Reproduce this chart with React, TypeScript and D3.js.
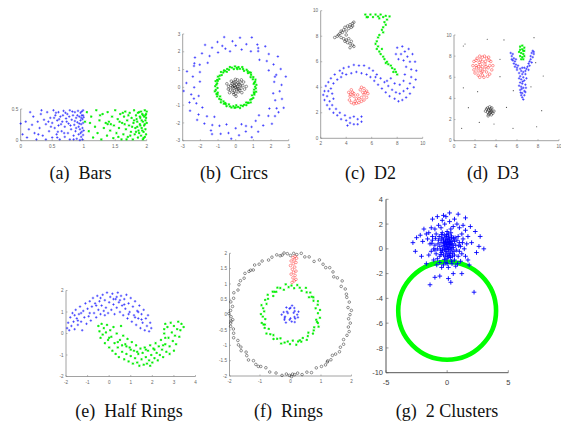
import * as d3 from "d3";

type Pt = [number, number];

// flat [x,y,x,y,...] -> points
const pairs = (a: number[]): Pt[] => d3.range(0, a.length - 1, 2).map((i) => [a[i], a[i + 1]]);
const polar = (a: number[]): Pt[] =>
  pairs(a).map(([deg, r]) => {
    const t = (deg * Math.PI) / 180;
    return [r * Math.cos(t), r * Math.sin(t)];
  });

// ---------- (a) Bars ----------
const barsBlue = pairs([
  0.08,0.30, 0.10,0.05, 0.15,0.45, 0.18,0.25, 0.20,0.38, 0.22,0.12, 0.25,0.02, 0.27,0.30, 0.30,0.20, 0.32,0.42,
  0.35,0.08, 0.37,0.33, 0.40,0.02, 0.40,0.26, 0.42,0.45, 0.45,0.15, 0.47,0.36, 0.50,0.05, 0.50,0.28, 0.52,0.48,
  0.54,0.20, 0.55,0.40, 0.57,0.10, 0.58,0.32, 0.60,0.45, 0.60,0.24, 0.62,0.02, 0.63,0.38, 0.65,0.15, 0.66,0.30,
  0.68,0.47, 0.70,0.22, 0.70,0.06, 0.72,0.35, 0.74,0.42, 0.75,0.12, 0.76,0.27, 0.78,0.02, 0.78,0.48, 0.80,0.18,
  0.81,0.33, 0.83,0.40, 0.84,0.08, 0.85,0.25, 0.86,0.45, 0.87,0.15, 0.88,0.36, 0.89,0.03, 0.90,0.29, 0.91,0.47,
  0.92,0.10, 0.92,0.22, 0.93,0.38, 0.94,0.01, 0.94,0.18, 0.95,0.32, 0.95,0.44, 0.96,0.06, 0.96,0.26, 0.97,0.14,
  0.97,0.40, 0.98,0.02, 0.98,0.20, 0.98,0.34, 0.99,0.48, 0.99,0.09, 0.99,0.28, 1.00,0.16, 1.00,0.37, 0.13,0.18,
  0.28,0.10, 0.33,0.48, 0.44,0.30, 0.48,0.22, 0.53,0.36, 0.56,0.44, 0.59,0.14, 0.61,0.34, 0.64,0.26, 0.67,0.40,
  0.69,0.12, 0.73,0.30, 0.77,0.38, 0.79,0.24, 0.82,0.46, 0.86,0.31, 0.88,0.20, 0.90,0.40, 0.93,0.27, 0.95,0.12,
  0.97,0.46, 0.99,0.40, 0.96,0.36, 0.03,0.10, 0.58,0.05, 0.71,0.44, 0.84,0.02, 0.00,0.27,
]);
const barsGreen = pairs([
  1.02,0.30, 1.05,0.45, 1.08,0.15, 1.12,0.38, 1.15,0.05, 1.18,0.22, 1.20,0.48, 1.22,0.12, 1.25,0.32, 1.28,0.02,
  1.30,0.42, 1.32,0.20, 1.35,0.28, 1.37,0.08, 1.38,0.45, 1.40,0.30, 1.42,0.16, 1.45,0.38, 1.47,0.04, 1.48,0.24,
  1.50,0.48, 1.52,0.12, 1.54,0.34, 1.56,0.20, 1.58,0.42, 1.60,0.02, 1.61,0.28, 1.63,0.10, 1.64,0.38, 1.66,0.46,
  1.67,0.18, 1.69,0.32, 1.70,0.06, 1.72,0.24, 1.73,0.44, 1.75,0.14, 1.76,0.36, 1.78,0.02, 1.79,0.28, 1.80,0.48,
  1.81,0.10, 1.82,0.20, 1.83,0.40, 1.85,0.30, 1.86,0.05, 1.87,0.16, 1.88,0.45, 1.89,0.26, 1.90,0.36, 1.91,0.08,
  1.92,0.20, 1.93,0.42, 1.94,0.02, 1.94,0.30, 1.95,0.14, 1.96,0.38, 1.96,0.24, 1.97,0.48, 1.97,0.06, 1.98,0.32,
  1.98,0.18, 1.99,0.42, 1.99,0.10, 2.00,0.28, 2.00,0.46, 1.65,0.26, 1.71,0.40, 1.74,0.08, 1.77,0.22, 1.84,0.34,
  1.86,0.44, 1.88,0.12, 1.90,0.24, 1.92,0.32, 1.95,0.04, 1.97,0.26, 1.99,0.36, 1.43,0.26, 1.38,0.26, 1.55,0.06,
  1.62,0.44, 1.68,0.02, 1.80,0.32, 1.83,0.14, 1.91,0.46, 1.93,0.16, 1.98,0.40, 1.10,0.28, 1.26,0.40, 1.57,0.30,
  1.85,0.22, 1.89,0.38, 1.94,0.40,
]);

// ---------- (b) Circs ----------
const circsBlue = polar([
  3,2.6, 8,2.2, 12,2.9, 17,2.4, 22,2.75, 27,2.1, 31,2.5, 36,2.95, 40,2.3, 45,2.65, 49,2.05, 54,2.85, 58,2.4,
  63,2.7, 67,2.2, 72,2.95, 76,2.5, 81,2.15, 85,2.8, 90,2.35, 94,2.6, 99,2.05, 103,2.9, 108,2.45, 112,2.75,
  117,2.2, 121,2.6, 126,2.95, 130,2.3, 135,2.7, 139,2.1, 144,2.85, 148,2.4, 153,2.65, 157,2.2, 162,2.9, 166,2.5,
  171,2.05, 175,2.8, 180,2.35, 184,2.95, 189,2.55, 193,2.15, 198,2.75, 202,2.4, 207,2.9, 211,2.2, 216,2.6,
  220,2.85, 225,2.3, 229,2.7, 234,2.05, 238,2.5, 243,2.95, 247,2.35, 252,2.75, 256,2.15, 261,2.6, 265,2.9,
  270,2.3, 274,2.7, 279,2.1, 283,2.55, 288,2.95, 292,2.4, 297,2.8, 301,2.2, 306,2.65, 310,2.05, 315,2.9,
  319,2.45, 324,2.75, 328,2.25, 333,2.6, 337,2.95, 342,2.35, 346,2.7, 351,2.15, 355,2.5, 15,2.3, 60,2.55,
  105,2.25, 150,2.7, 195,2.45, 240,2.8, 285,2.25, 330,2.8,
]);
const circsGreen = polar([
  2,1.1, 7,1.18, 11,1.04, 16,1.14, 21,1.2, 25,1.07, 30,1.15, 34,1.02, 39,1.12, 44,1.19, 49,1.06, 53,1.13,
  58,1.17, 63,1.04, 68,1.11, 72,1.2, 77,1.07, 82,1.15, 87,1.1, 92,1.18, 96,1.03, 101,1.13, 106,1.19, 111,1.06,
  115,1.14, 120,1.01, 125,1.16, 130,1.09, 134,1.2, 139,1.05, 144,1.12, 149,1.17, 153,1.04, 158,1.13, 163,1.19,
  168,1.07, 172,1.11, 177,1.16, 182,1.03, 187,1.14, 191,1.2, 196,1.06, 201,1.1, 206,1.17, 210,1.02, 215,1.13,
  220,1.08, 225,1.19, 229,1.05, 234,1.14, 239,1.1, 244,1.18, 248,1.03, 253,1.12, 258,1.16, 263,1.07, 267,1.15,
  272,1.01, 277,1.11, 282,1.19, 286,1.06, 291,1.13, 296,1.09, 301,1.17, 305,1.04, 310,1.14, 315,1.2, 320,1.08,
  324,1.12, 329,1.16, 334,1.03, 339,1.13, 343,1.1, 348,1.18, 353,1.05, 357,1.14, 14,1.09, 47,1.15, 85,1.03,
  123,1.11, 160,1.08, 199,1.15, 236,1.06, 270,1.13, 308,1.1, 345,1.07,
]);
const circsBlack = pairs([
  0.0,0.0, 0.1,0.05, -0.1,0.1, 0.05,-0.12, -0.15,-0.05, 0.2,0.15, -0.2,0.2, 0.15,-0.25, -0.05,0.3, 0.3,-0.05,
  -0.3,-0.15, 0.0,-0.35, 0.25,0.3, -0.25,0.35, 0.4,0.1, -0.4,0.05, 0.1,0.42, -0.1,-0.4, 0.35,-0.3, -0.35,-0.3,
  0.05,0.18, -0.08,-0.2, 0.18,-0.08, -0.18,0.02, 0.12,0.25, -0.02,0.45, 0.5,-0.1, -0.5,0.2, 0.28,0.12,
  -0.12,0.28, 0.08,-0.05, -0.05,0.08, 0.22,-0.18, -0.28,0.1, 0.45,0.3, -0.15,-0.28, 0.02,-0.5, 0.32,0.42,
  -0.42,-0.1, 0.6,0.05,
]);

// ---------- (c) D2 ----------
const d2Blue = pairs([
  4.9,1.1, 4.9,1.5, 4.6,1.1, 4.6,1.7, 4.3,1.2, 4.3,1.6, 4.0,1.4, 3.9,1.8, 3.6,1.5, 3.5,2.0, 3.3,1.8, 3.2,2.3,
  3.0,2.0, 2.9,2.6, 2.7,2.3, 2.7,2.9, 2.5,2.6, 2.5,3.3, 2.3,3.0, 2.3,3.7, 2.2,3.4, 2.6,3.7, 2.4,4.1, 2.6,4.4,
  2.8,3.9, 2.8,4.7, 3.0,4.3, 3.1,5.0, 3.3,4.6, 3.5,5.3, 3.6,4.8, 3.8,5.5, 4.0,5.0, 4.2,5.6, 4.4,5.1, 4.6,5.75,
  4.8,5.2, 5.0,5.7, 5.2,5.1, 5.4,5.7, 5.6,5.0, 5.8,5.5, 5.9,4.8, 6.1,5.3, 6.2,4.5, 6.4,5.0, 6.5,4.2, 6.7,4.7,
  6.8,3.9, 7.0,4.4, 7.1,3.6, 7.3,4.1, 7.4,3.3, 7.6,3.8, 7.8,3.1, 7.9,3.6, 8.1,2.9, 8.2,3.5, 8.4,3.0, 8.5,3.7,
  8.7,3.2, 8.8,3.9, 9.0,3.5, 9.0,4.3, 9.3,4.0, 9.1,4.8, 9.45,4.6, 9.1,5.4, 9.5,5.3, 9.0,6.0, 9.4,6.0, 8.8,6.4,
  9.2,6.6, 8.6,6.8, 8.9,7.0, 8.3,6.6, 8.4,7.2, 8.0,7.1, 7.9,6.6, 8.1,6.2, 8.5,6.1, 8.7,5.6, 8.6,5.0, 8.5,4.5,
  8.2,4.2, 7.8,4.3, 3.0,3.1, 2.9,3.5, 5.2,1.3, 5.2,1.7, 4.1,1.0, 3.7,5.1, 6.3,4.8, 7.2,4.5, 7.5,4.7,
]);
const d2Green = pairs([
  5.5,9.7, 5.7,9.5, 5.9,9.7, 6.1,9.5, 6.3,9.7, 6.5,9.55, 6.7,9.7, 6.9,9.5, 7.1,9.6, 7.4,9.55, 7.2,9.3, 7.0,9.1,
  7.1,8.9, 6.9,8.7, 6.8,8.5, 6.9,8.3, 6.6,8.1, 6.5,7.9, 6.4,7.6, 6.3,7.4, 6.5,7.2, 6.4,7.0, 6.6,6.8, 6.7,6.6,
  6.9,6.4, 7.0,6.2, 7.2,6.0, 7.3,5.8, 7.5,5.7, 7.6,5.5, 7.8,5.4, 7.9,5.2, 8.0,5.0, 7.7,5.2, 7.1,5.9, 6.8,7.0,
  5.6,9.5, 6.6,9.4,
]);
const d2Red = pairs([
  4.2,3.6, 4.3,3.3, 4.25,3.0, 4.4,2.8, 4.6,2.7, 4.8,2.75, 5.0,2.8, 5.2,2.9, 5.4,3.0, 5.6,3.2, 5.7,3.5, 5.6,3.7,
  5.4,3.9, 5.2,4.0, 5.1,3.8, 5.3,3.6, 5.4,3.4, 5.2,3.2, 5.0,3.1, 4.8,3.1, 4.6,3.3, 4.5,3.6, 4.4,3.8, 4.6,3.5,
  4.9,3.4, 5.5,3.6, 4.35,3.45, 4.7,2.9,
]);
const d2Black = pairs([
  3.1,7.9, 3.3,8.0, 3.5,8.2, 3.6,8.4, 3.8,8.5, 3.9,8.7, 4.1,8.8, 4.3,8.9, 4.5,9.0, 4.6,9.1, 4.4,8.7, 4.2,8.6,
  3.7,8.3, 4.0,8.4, 3.6,7.9, 3.8,7.8, 4.0,7.7, 4.1,7.5, 4.3,7.4, 4.5,7.3, 4.6,7.2, 4.4,7.6, 4.2,7.8, 4.5,8.8,
  3.4,8.1, 4.3,7.1, 4.0,8.1, 3.9,7.6,
]);

// ---------- (d) D3 ----------
const d3Red = pairs([
  2.7,7.0, 2.4,7.4, 3.0,7.5, 2.1,7.1, 3.4,7.1, 2.3,6.6, 3.1,6.5, 2.7,7.9, 2.7,6.2, 1.9,7.5, 3.5,7.5, 1.9,6.7,
  3.6,6.7, 2.2,7.8, 3.3,7.9, 2.3,6.2, 3.2,6.1, 2.5,7.2, 2.95,7.25, 2.55,6.8, 2.9,6.75, 1.8,7.1, 3.7,7.1, 2.0,6.4,
  3.4,6.3, 2.5,7.65, 3.1,7.8, 2.6,6.45, 2.85,6.0, 2.45,6.0, 2.1,7.6, 3.35,7.6, 2.15,6.9, 3.25,6.9, 2.7,7.5,
  2.7,6.55, 2.35,7.0, 3.05,7.0, 2.9,8.0, 2.45,8.0,
]);
const d3Green = pairs([
  6.3,8.9, 6.5,9.0, 6.7,8.8, 6.3,8.6, 6.6,8.5, 6.4,8.3, 6.6,8.2, 6.3,8.0, 6.5,7.9, 6.7,8.0, 6.4,7.7, 6.6,7.7,
  6.2,8.4, 6.7,8.5, 6.5,8.65,
]);
const d3Blue = pairs([
  5.4,8.3, 5.6,8.2, 5.5,8.0, 5.7,7.8, 5.6,7.6, 5.8,7.5, 5.7,7.3, 5.9,7.2, 5.8,7.0, 6.0,6.9, 6.1,7.1, 6.0,6.7,
  5.5,7.7, 5.9,7.7, 7.5,8.5, 7.4,8.3, 7.6,8.2, 7.3,8.0, 7.5,7.9, 7.3,7.7, 7.2,7.5, 7.4,7.4, 7.1,7.3, 7.2,7.1,
  7.0,7.0, 6.9,6.8, 7.1,6.7, 6.8,6.6, 7.6,8.4, 6.3,6.8, 6.5,6.9, 6.7,6.9, 6.4,6.6, 6.6,6.5, 6.2,6.4, 6.5,6.3,
  6.8,6.3, 6.3,6.1, 6.6,6.0, 6.4,5.8, 6.7,5.7, 6.3,5.5, 6.5,5.4, 6.8,5.3, 6.4,5.1, 6.6,5.0, 6.3,4.8, 6.7,4.7,
  6.5,4.5, 6.4,4.3, 6.7,4.3, 6.5,4.1, 6.6,3.9, 6.8,4.6, 6.2,5.2, 6.9,5.9, 6.2,5.9, 6.55,5.6, 6.45,4.9, 6.85,5.0,
  6.35,4.55,
]);
const d3Black = pairs([
  3.3,2.9, 3.5,3.0, 3.2,2.7, 3.6,2.8, 3.4,2.6, 3.1,3.0, 3.7,2.6, 3.4,3.2, 3.3,2.5, 3.6,3.1, 3.5,2.7, 3.2,3.1,
  3.8,2.8, 3.0,2.8, 3.45,2.85, 3.55,2.45, 3.25,2.35,
]);
const d3Noise = pairs([
  0.89,8.96, 1.05,9.15, 3.17,9.6, 4.76,9.53, 7.62,9.75, 4.38,7.7, 7.78,7.38, 8.5,6.12, 7.33,5.1, 5.65,4.73,
  4.38,6.06, 2.25,4.64, 0.89,5.0, 1.37,3.12, 5.0,3.15, 2.41,1.73, 3.81,1.58, 5.62,1.17, 7.87,1.32, 0.73,1.17,
  8.35,2.84,
]);

// ---------- (e) Half Rings ----------
const halfBlue = pairs([
  -1.95,0.25, -1.9,0.5, -1.85,0.15, -1.8,0.75, -1.75,0.35, -1.7,0.95, -1.65,0.55, -1.6,0.2, -1.55,1.1, -1.5,0.7,
  -1.45,0.4, -1.4,0.9, -1.35,1.25, -1.3,0.55, -1.25,0.15, -1.2,1.05, -1.15,0.75, -1.1,1.4, -1.05,0.45, -1.0,1.15,
  -0.95,0.8, -0.9,1.5, -0.85,0.6, -0.8,1.25, -0.75,1.65, -0.7,0.95, -0.65,1.4, -0.6,0.75, -0.55,1.75, -0.5,1.1,
  -0.45,1.5, -0.4,0.9, -0.35,1.3, -0.3,1.8, -0.25,1.05, -0.2,1.55, -0.15,1.2, -0.1,1.9, -0.05,0.95, 0.0,1.45,
  0.05,1.7, 0.1,1.1, 0.15,1.85, 0.2,1.35, 0.25,0.9, 0.3,1.6, 0.35,1.2, 0.4,1.9, 0.45,1.45, 0.5,1.0, 0.55,1.75,
  0.6,1.3, 0.65,0.85, 0.7,1.6, 0.75,1.15, 0.8,1.8, 0.85,0.7, 0.9,1.4, 0.95,1.0, 1.0,1.65, 1.05,0.55, 1.1,1.25,
  1.15,0.85, 1.2,1.5, 1.25,0.4, 1.3,1.05, 1.35,0.7, 1.4,1.3, 1.45,0.25, 1.5,0.9, 1.55,0.5, 1.6,1.1, 1.65,0.15,
  1.7,0.7, 1.75,0.35, 1.8,0.85, 1.85,0.1, 1.9,0.5, 1.95,0.25, -1.6,0.85, -1.3,0.95, -0.9,0.95, -0.6,1.3,
  -0.2,0.85, 0.2,1.6, 0.5,1.55, 0.9,0.9, 1.2,0.75, 1.5,0.65, -1.45,0.6, 0.7,1.35, 0.35,1.7, -0.4,1.65, 1.35,1.0,
]);
const halfGreen = pairs([
  -0.5,0.35, -0.45,0.1, -0.4,-0.2, -0.35,0.45, -0.3,-0.05, -0.25,0.25, -0.2,-0.45, -0.15,0.05, -0.1,0.4,
  -0.05,-0.3, 0.0,-0.65, 0.05,0.15, 0.1,-0.15, 0.15,-0.8, 0.2,0.3, 0.25,-0.45, 0.3,-0.95, 0.35,0.0, 0.4,-0.65,
  0.45,-1.1, 0.5,-0.3, 0.55,0.35, 0.6,-0.85, 0.65,-0.1, 0.7,-1.2, 0.75,-0.5, 0.8,-0.95, 0.85,-0.25, 0.9,-1.3,
  0.95,-0.65, 1.0,-1.05, 1.05,-0.4, 1.1,-1.4, 1.15,-0.8, 1.2,-1.15, 1.25,-0.55, 1.3,-1.35, 1.35,-0.95, 1.4,-1.5,
  1.45,-0.7, 1.5,-1.2, 1.55,-0.9, 1.6,-1.45, 1.65,-0.65, 1.7,-1.1, 1.75,-1.4, 1.8,-0.8, 1.85,-1.25, 1.9,-0.55,
  1.95,-1.0, 2.0,-1.35, 2.05,-0.7, 2.1,-1.15, 2.15,-0.45, 2.2,-0.9, 2.25,-1.25, 2.3,-0.6, 2.35,-1.0, 2.4,-0.3,
  2.45,-0.75, 2.5,-1.1, 2.55,0.0, 2.6,-0.5, 2.65,-0.85, 2.7,0.3, 2.75,-0.2, 2.8,-0.6, 2.85,0.5, 2.9,0.05,
  2.95,-0.35, 3.0,0.35, 3.05,-0.1, 3.1,-0.5, 3.15,0.2, 3.2,0.55, 3.25,-0.15, 3.3,0.15, 3.35,0.45, 3.45,0.3,
  2.6,0.45, 2.55,0.2, 0.0,-0.2, 0.4,-0.4, 0.8,-0.6, 1.3,-0.85, 1.7,-0.75, 2.1,-0.75, 2.5,-0.55, 2.8,-0.95,
  3.0,-0.8, 1.0,-0.75, 0.6,-0.55, 1.9,-1.5, 2.6,-0.2,
]);

// ---------- (f) Rings ----------
const ringsBlack = polar([
  0,1.95, 4,2.0, 7,1.9, 12,1.97, 17,1.93, 25,1.98, 29,1.9, 33,2.02, 38,1.95, 41,1.88, 45,1.97, 50,2.0, 53,1.92,
  57,1.96, 62,2.02, 66,1.9, 72,1.98, 76,1.94, 80,2.03, 84,1.97, 87,2.0, 90,1.93, 93,1.99, 96,2.02, 100,1.95,
  103,2.0, 108,1.97, 112,1.92, 118,1.98, 122,1.94, 126,2.0, 130,1.9, 134,1.96, 138,2.01, 142,1.93, 146,1.98,
  150,1.95, 155,1.9, 159,1.99, 164,1.94, 168,2.0, 172,1.92, 176,1.97, 179,2.02, 182,1.95, 185,1.9, 188,1.98,
  191,2.0, 194,1.93, 198,1.96, 202,2.01, 206,1.92, 210,1.97, 213,1.94, 216,2.0, 220,1.9, 223,1.96, 227,2.02,
  231,1.93, 235,1.98, 240,1.95, 245,1.91, 250,1.99, 256,1.96, 262,2.0, 266,1.94, 269,1.98, 271,2.02, 274,1.96,
  277,1.92, 281,1.99, 286,1.95, 290,2.01, 296,1.93, 301,1.97, 305,2.0, 309,1.94, 312,1.98, 316,1.91, 319,1.96,
  323,2.01, 327,1.95, 331,1.99, 335,1.92, 340,1.97, 344,2.0, 348,1.94, 352,1.98, 356,1.91, 20,1.95, 98,1.96,
  132,1.95, 186,1.96, 238,1.99, 272,1.94, 308,1.96,
]);
const ringsGreen = polar([
  3,0.9, 9,0.98, 14,0.85, 20,0.95, 26,1.0, 31,0.88, 37,0.94, 43,0.83, 48,0.97, 54,0.9, 60,1.01, 65,0.86, 71,0.93,
  77,0.99, 82,0.87, 88,0.95, 94,0.9, 99,1.0, 105,0.84, 111,0.93, 116,0.98, 122,0.88, 128,0.95, 133,0.83,
  139,0.99, 145,0.9, 150,0.96, 156,0.86, 162,1.0, 167,0.92, 173,0.87, 179,0.97, 184,0.91, 190,0.84, 196,0.98,
  201,0.9, 207,0.95, 213,0.85, 218,1.0, 224,0.92, 230,0.87, 235,0.97, 241,0.9, 247,0.84, 252,0.99, 258,0.93,
  264,0.88, 269,0.96, 275,0.85, 281,1.0, 286,0.91, 292,0.95, 298,0.86, 303,0.98, 309,0.9, 315,0.83, 320,0.96,
  326,0.92, 332,0.88, 337,1.0, 343,0.94, 349,0.86, 354,0.97, 40,0.91, 125,0.91, 200,0.94, 290,0.89, 345,0.9,
]);
const ringsBlue = polar([
  0,0.22, 20,0.28, 40,0.18, 60,0.25, 80,0.3, 100,0.2, 120,0.27, 140,0.15, 160,0.24, 180,0.29, 200,0.19,
  220,0.26, 240,0.3, 260,0.17, 280,0.23, 300,0.28, 320,0.2, 340,0.26, 30,0.12, 150,0.1, 270,0.12, 90,0.22,
  210,0.22, 330,0.15,
]);
const ringsRed = pairs([
  0.05,1.05, 0.12,1.1, 0.18,1.15, 0.08,1.2, 0.15,1.28, 0.02,1.32, 0.1,1.38, 0.18,1.42, 0.06,1.48, 0.14,1.55,
  0.0,1.6, 0.09,1.66, 0.18,1.7, 0.12,1.78, 0.2,1.84, 0.08,1.86, 0.15,1.9, 0.02,1.75,
]);

// ---------- (g) 2 Clusters ----------
const clusterBlue = pairs([
  0.0,0.2, 0.1,0.5, -0.2,0.3, 0.3,-0.1, -0.1,-0.2, 0.2,0.8, -0.3,0.7, 0.4,0.4, -0.4,0.0, 0.05,-0.5, 0.15,0.1,
  -0.15,0.6, 0.35,0.9, -0.05,1.0, 0.5,0.1, -0.5,0.5, 0.25,-0.4, -0.3,-0.5, 0.6,0.6, -0.6,0.2, 0.1,1.2, -0.2,1.1,
  0.45,-0.6, -0.45,-0.3, 0.7,0.3, -0.7,0.7, 0.0,-0.8, 0.2,0.35, -0.1,0.0, 0.3,0.15, -0.25,0.45, 0.05,0.75,
  0.4,0.65, -0.35,0.9, 0.15,-0.25, -0.15,-0.6, 0.55,-0.2, -0.55,-0.1, 0.65,0.9, -0.65,1.0, 0.0,1.4, 0.3,1.3,
  -0.4,1.3, 0.1,-0.05, -0.05,0.35, 0.22,0.55, -0.18,0.15, 0.38,0.0, -0.32,0.25, 0.12,0.95, -0.08,-0.35,
  0.48,0.3, -0.48,0.8, 0.28,-0.7, -0.22,-0.85, 0.75,-0.1, -0.75,0.4, 0.05,0.45, -0.12,0.8, 0.18,-0.55,
  0.6,-0.5, -0.6,-0.6, 0.8,0.7, -0.8,0.0, 0.35,1.05, -0.45,1.15, 0.02,0.05, 0.42,-0.35, -0.38,-0.15, 0.25,0.6,
  -0.28,0.55, 0.08,-0.65, -0.02,1.15, 0.52,0.85, -0.52,-0.45, 0.15,0.3, -0.1,0.5, 0.32,0.4, -0.2,-0.05, 0.0,0.65,
  1.0,0.5, -1.0,0.3, 0.9,-0.6, -0.9,-0.4, 1.2,1.2, -1.2,1.0, 0.5,1.8, -0.5,1.7, 0.8,2.0, -0.7,1.9, 0.2,2.2,
  -0.2,2.0, 1.1,-1.0, -1.1,-0.9, 0.4,-1.2, -0.3,-1.3, 0.7,-1.4, -0.6,-1.1, 1.4,0.0, -1.4,0.4, 1.3,0.8,
  -1.3,-0.2, 1.5,1.5, -1.5,1.3, 1.0,1.7, -1.0,1.6, 1.2,-0.4, -1.2,0.7, 0.9,1.0, -0.9,1.2, 1.6,0.4, -1.6,0.8,
  0.1,-1.5, -0.1,-1.1, 0.6,-0.9, -0.8,-0.8, 1.0,-0.2, -1.0,-0.1, 1.3,1.9, -1.3,1.7, 0.3,1.6, -0.4,2.3, 0.6,2.4,
  -0.1,2.6, 0.0,-1.2, 0.35,-1.0, -0.45,-1.5, 0.85,-1.2, -0.85,-1.3, 1.5,-0.6, -1.5,-0.5, 1.7,1.0, -1.7,1.2,
  1.1,0.2, -1.1,0.0, 0.95,0.25, -0.95,0.85, 1.25,0.5, -1.25,0.45, 2.0,0.5, -2.0,0.6, 2.3,1.4, -2.2,1.1,
  1.8,-1.3, -1.7,-1.2, 0.2,2.9, -0.3,2.7, 2.6,0.2, -2.6,-0.2, 3.0,0.0, -2.5,0.9, 1.9,1.8, -1.9,1.6, 0.5,-2.0,
  -0.6,-2.2, 0.1,-2.4, -1.4,-2.9, -1.0,-2.3, 1.2,-2.0, 2.2,-3.5, 1.5,2.5, -1.2,2.4, 2.7,1.0, -2.8,0.5,
  0.9,2.8, -0.8,2.6, 1.7,-0.9, -2.1,-0.6, 0.3,-2.7, 2.4,-0.3,
]);
const clusterRing = { cx: 0, cy: -5, r: 4 };

const captionsTop = ["(a)  Bars", "(b)  Circs", "(c)  D2", "(d)  D3"];
const captionsBottom = ["(e)  Half Rings", "(f)  Rings", "(g)  2 Clusters"];

const BLUE = "#0000ff";
const GREEN = "#00ee00";
const RED = "#ff2020";
const BLACK = "#111";

type Layer = { pts: Pt[]; kind: "+" | "*" | "o" | "."; color: string };
type Spec = {
  xr: [number, number];
  yr: [number, number];
  xd: [number, number];
  yd: [number, number];
  xt: number[];
  yt: number[];
  big?: boolean;
  layers: Layer[];
};

const panels: Spec[] = [
  {
    xr: [20.7, 146.7], yr: [140.7, 109], xd: [0, 2], yd: [0, 0.5],
    xt: [0, 0.5, 1, 1.5, 2], yt: [0, 0.5],
    layers: [{ pts: barsBlue, kind: "+", color: BLUE }, { pts: barsGreen, kind: "*", color: GREEN }],
  },
  {
    xr: [182.7, 288.7], yr: [140.7, 34], xd: [-3, 3], yd: [-3, 3],
    xt: d3.range(-3, 4), yt: d3.range(-3, 4),
    layers: [
      { pts: circsBlue, kind: "+", color: BLUE },
      { pts: circsGreen, kind: "*", color: GREEN },
      { pts: circsBlack, kind: "o", color: BLACK },
    ],
  },
  {
    xr: [320.7, 422.7], yr: [138.3, 10.7], xd: [2, 10], yd: [0, 10],
    xt: [2, 4, 6, 8, 10], yt: [0, 2, 4, 6, 8, 10],
    layers: [
      { pts: d2Blue, kind: "+", color: BLUE },
      { pts: d2Green, kind: "*", color: GREEN },
      { pts: d2Red, kind: "o", color: RED },
      { pts: d2Black, kind: "o", color: BLACK },
    ],
  },
  {
    xr: [454, 559], yr: [140.7, 35], xd: [0, 10], yd: [0, 10],
    xt: [0, 2, 4, 6, 8, 10], yt: [0, 2, 4, 6, 8, 10],
    layers: [
      { pts: d3Noise, kind: ".", color: "#555" },
      { pts: d3Red, kind: "o", color: RED },
      { pts: d3Green, kind: "*", color: GREEN },
      { pts: d3Blue, kind: "+", color: BLUE },
      { pts: d3Black, kind: "o", color: BLACK },
    ],
  },
  {
    xr: [66, 195.5], yr: [376.5, 290.5], xd: [-2, 4], yd: [-2, 2],
    xt: d3.range(-2, 5), yt: d3.range(-2, 3),
    layers: [{ pts: halfBlue, kind: "+", color: BLUE }, { pts: halfGreen, kind: "*", color: GREEN }],
  },
  {
    xr: [229.5, 351.5], yr: [376, 253.3], xd: [-2, 2], yd: [-2, 2],
    xt: d3.range(-2, 3), yt: d3.range(-2, 2.01, 0.5),
    layers: [
      { pts: ringsBlack, kind: "o", color: BLACK },
      { pts: ringsGreen, kind: "*", color: GREEN },
      { pts: ringsBlue, kind: "+", color: BLUE },
      { pts: ringsRed, kind: "o", color: RED },
    ],
  },
  {
    xr: [386, 508.3], yr: [372.7, 199.3], xd: [-5, 5], yd: [-10, 4],
    xt: [-5, 0, 5], yt: d3.range(-10, 5, 2), big: true,
    layers: [{ pts: clusterBlue, kind: "+", color: BLUE }],
  },
];

function markPath(kind: string, s: number) {
  if (kind === "+") return `M${-s},0H${s}M0,${-s}V${s}`;
  const d = s * 0.72;
  return `M${-s},0H${s}M0,${-s}V${s}M${-d},${-d}L${d},${d}M${-d},${d}L${d},${-d}`;
}

function Panel({ spec }: { spec: Spec }) {
  const x = d3.scaleLinear().domain(spec.xd).range(spec.xr);
  const y = d3.scaleLinear().domain(spec.yd).range(spec.yr);
  const big = !!spec.big;
  const fs = big ? 7.5 : 4.6;
  const tl = big ? 2.5 : 1.5;
  const axisColor = big ? "#555" : "#8a8a8a";
  const [x0, x1] = spec.xr;
  const [y0, y1] = spec.yr;
  const s = big ? 2.3 : 1.25;
  const sw = big ? 0.9 : 0.55;
  const fmt = (v: number) => String(Math.round(v * 100) / 100);
  return (
    <g>
      <line x1={x0} x2={x1} y1={y0} y2={y0} stroke={axisColor} strokeWidth={big ? 1 : 0.8} />
      <line x1={x0} x2={x0} y1={y0} y2={y1} stroke={axisColor} strokeWidth={big ? 1 : 0.8} />
      {spec.xt.map((t) => (
        <g key={"x" + t}>
          <line x1={x(t)} x2={x(t)} y1={y0} y2={y0 - tl} stroke={axisColor} strokeWidth={0.6} />
          <text x={x(t)} y={y0 + (big ? 12 : 7)} fontSize={fs} textAnchor="middle" fill={big ? "#444" : "#666"}>
            {fmt(t)}
          </text>
        </g>
      ))}
      {spec.yt.map((t) => (
        <g key={"y" + t}>
          <line x1={x0} x2={x0 + tl} y1={y(t)} y2={y(t)} stroke={axisColor} strokeWidth={0.6} />
          <text x={x0 - (big ? 3 : 2.5)} y={y(t)} dy="0.35em" fontSize={fs} textAnchor="end" fill={big ? "#444" : "#666"}>
            {fmt(t)}
          </text>
        </g>
      ))}
      {big && (
        <circle
          cx={x(clusterRing.cx)}
          cy={y(clusterRing.cy)}
          r={x(clusterRing.r) - x(0)}
          fill="none"
          stroke="#00ff00"
          strokeWidth={4.6}
        />
      )}
      {spec.layers.map((L, li) => (
        <g key={li}>
          {L.pts.map(([px, py], i) =>
            L.kind === "o" ? (
              <circle key={i} cx={x(px)} cy={y(py)} r={1.3} fill="none" stroke={L.color} strokeWidth={0.45} />
            ) : L.kind === "." ? (
              <circle key={i} cx={x(px)} cy={y(py)} r={0.6} fill={L.color} />
            ) : (
              <path
                key={i}
                d={markPath(L.kind, L.kind === "*" ? s * 0.95 : s)}
                transform={`translate(${x(px)},${y(py)})`}
                stroke={L.color}
                strokeWidth={L.kind === "*" ? sw + 0.2 : sw}
                fill="none"
              />
            )
          )}
        </g>
      ))}
    </g>
  );
}

const serif = { fontFamily: '"Liberation Serif", "Times New Roman", "DejaVu Serif", serif', whiteSpace: "pre" as const };

export default function App() {
  const topX = [80.5, 234, 370.5, 493];
  const botX = [129, 288.5, 447];
  return (
    <svg
      width={561}
      height={421}
      style={{ position: "absolute", left: 0, top: 0, background: "#fff", fontFamily: '"Liberation Sans", Arial, sans-serif' }}
    >
      {panels.map((p, i) => (
        <Panel key={i} spec={p} />
      ))}
      <g fontSize={18} fill="#111" textAnchor="middle">
        {captionsTop.map((c, i) => (
          <text key={c} x={topX[i]} y={178.5} style={serif}>
            {c}
          </text>
        ))}
        {captionsBottom.map((c, i) => (
          <text key={c} x={botX[i]} y={417} style={serif}>
            {c}
          </text>
        ))}
      </g>
    </svg>
  );
}
